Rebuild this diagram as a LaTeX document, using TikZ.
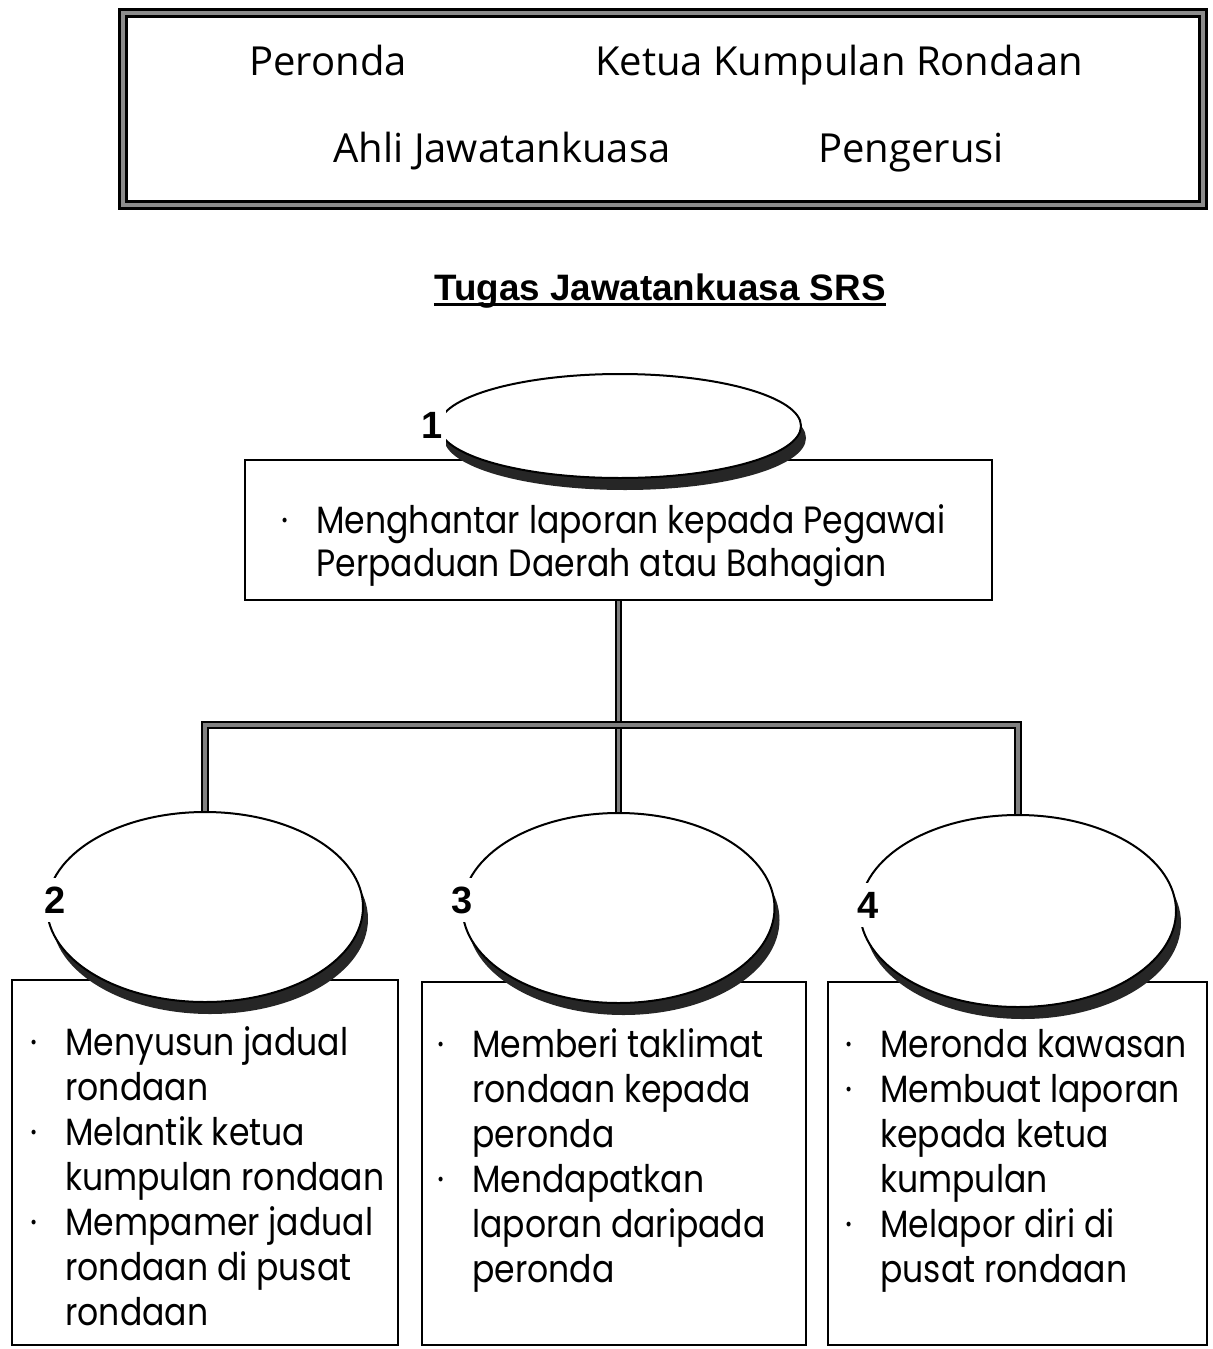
\documentclass[tikz,border=0pt]{standalone}
\usepackage{fontspec}
\setmainfont{Poppins}
\newfontfamily\dutyfont[FakeStretch=0.87]{Poppins}
\newfontfamily\handfont{Open Sans}
\newfontfamily\headfont{Liberation Sans}
\usetikzlibrary{shapes.geometric,shadows}

\tikzset{
  box/.style={draw,line width=1pt,rectangle,inner sep=0pt},
  oval/.style={ellipse,fill=white,draw,line width=1pt,inner sep=0pt,
    drop shadow={shadow xshift=2.5pt,shadow yshift=-6pt,fill=black!85,opacity=1}},
  num/.style={fill=white,inner xsep=1.5pt,inner ysep=0pt,minimum height=22pt,
    font=\headfont\bfseries\fontsize{19}{19}\selectfont},
  duty/.style={anchor=north west,inner sep=0pt,font=\dutyfont\fontsize{19}{22.5}\selectfont},
  word/.style={anchor=base,inner sep=0pt,font=\handfont\fontsize{20}{20}\selectfont},
  trunk/.style={draw=black,line width=1.1pt,double=black!50,double distance=1.6pt}
}
\newcommand{\dotm}{·}

\begin{document}
\begin{tikzpicture}[x=0.5pt,y=-0.5pt]
\useasboundingbox (0,0) rectangle (1212,1349);

% word bank
\node[draw,line width=1.5pt,double=black!45,double distance=2pt,
  minimum width=540pt,minimum height=96pt] (bank) at (663,109) {};
\node[word] (w1) at (328,75) {Peronda};
\node[word] (w2) at (839,75) {Ketua Kumpulan Rondaan};
\node[word] (w3) at (502,162) {Ahli Jawatankuasa};
\node[word] (w4) at (911,162) {Pengerusi};

\node[anchor=base,inner xsep=0pt,font=\headfont\bfseries\fontsize{18.4}{18.4}\selectfont]
  (title) at (660,300) {Tugas Jawatankuasa SRS};
\draw[line width=1.5pt] ([yshift=-2pt]title.base west) -- ([yshift=-2pt]title.base east);

% boxes
\node[box,line width=1.2pt,minimum width=373.5pt,minimum height=70pt] (b1) at (618.5,530) {};
\node[box,minimum width=193pt,minimum height=182.5pt] (b2) at (205,1162.5) {};
\node[box,minimum width=192pt,minimum height=181.5pt] (b3) at (614,1163.5) {};
\node[box,minimum width=189.5pt,minimum height=181.5pt] (b4) at (1017.5,1163.5) {};

% ovals
\node[oval,minimum width=181pt,minimum height=52pt] (e1) at (620,426) {};
\node[oval,minimum width=158pt,minimum height=95pt] (e2) at (205,907) {};
\node[oval,minimum width=156pt,minimum height=95pt] (e3) at (618.5,908) {};
\node[oval,minimum width=158pt,minimum height=96pt] (e4) at (1018,911) {};

\node[num] (n1) at (432,425) {1};
\node[num] (n2) at (55,900) {2};
\node[num] (n3) at (462,900) {3};
\node[num] (n4) at (868,905) {4};

% connectors
\coordinate (bus) at (618.5,725);
\draw[trunk] (b1.south) -- (e3.north);
\draw[trunk] (e2.north) |- (bus) -| (e4.north);

% texts
\node[duty,font=\dutyfont\fontsize{19}{21.5}\selectfont] (t1) at (281,503) {\begin{tabular}{@{}p{17.5pt}@{}l@{}}
\dotm & Menghantar laporan kepada Pegawai\\
 & Perpaduan Daerah atau Bahagian
\end{tabular}};
\node[duty] (t2) at (30,1024) {\begin{tabular}{@{}p{17.5pt}@{}l@{}}
\dotm & Menyusun jadual\\
 & rondaan\\
\dotm & Melantik ketua\\
 & kumpulan rondaan\\
\dotm & Mempamer jadual\\
 & rondaan di pusat\\
 & rondaan
\end{tabular}};
\node[duty] (t3) at (437,1026) {\begin{tabular}{@{}p{17.5pt}@{}l@{}}
\dotm & Memberi taklimat\\
 & rondaan kepada\\
 & peronda\\
\dotm & Mendapatkan\\
 & laporan daripada\\
 & peronda
\end{tabular}};
\node[duty] (t4) at (845,1026) {\begin{tabular}{@{}p{17.5pt}@{}l@{}}
\dotm & Meronda kawasan\\
\dotm & Membuat laporan\\
 & kepada ketua\\
 & kumpulan\\
\dotm & Melapor diri di\\
 & pusat rondaan
\end{tabular}};
\end{tikzpicture}
\end{document}
